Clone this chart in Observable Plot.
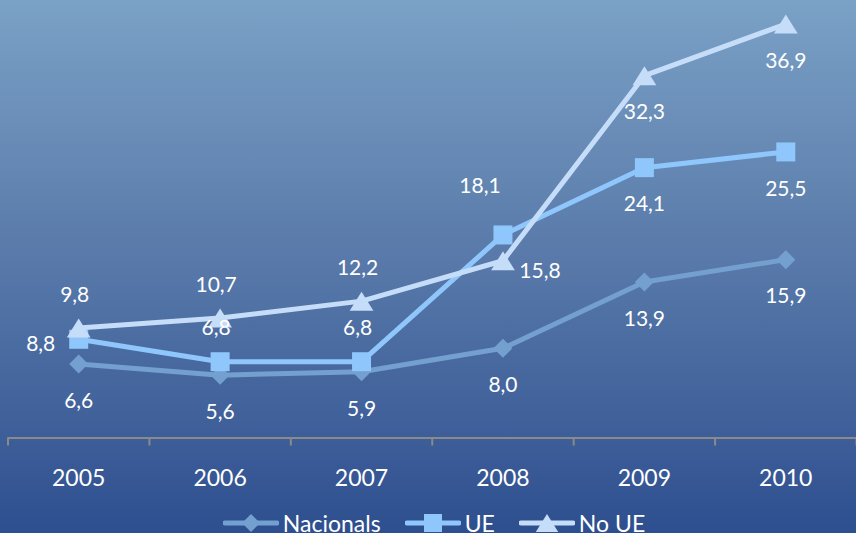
<!DOCTYPE html>
<html>
<head>
<meta charset="utf-8">
<script src="https://cdn.jsdelivr.net/npm/d3@7"></script>
<script src="https://cdn.jsdelivr.net/npm/@observablehq/plot@0.6"></script>
<style>
  html, body { margin: 0; padding: 0; }
  #wrap {
    width: 856px; height: 533px; overflow: hidden;
    background: linear-gradient(to bottom, #7aa1c6 0%, #5b7cab 45%, #2e4f8f 100%);
    font-family: Lato, "Open Sans", sans-serif;
  }
  #legend {
    height: 28px; overflow: hidden; display: flex; justify-content: center;
    align-items: center; padding-top: 8px; box-sizing: border-box; padding-left: 12px;
    color: #ffffff; font-size: 23px; line-height: 23px;
  }
  #legend .item { display: flex; align-items: center; margin-right: 24px; }
  #legend .item:last-child { margin-right: 0; }
  #legend span { margin-left: 4px; }
</style>
</head>
<body>
<div id="wrap"><div id="chart"></div><div id="legend"></div></div>
<script>
// ---- data ----
const years = [2005, 2006, 2007, 2008, 2009, 2010];
const seriesNames = ["Nacionals", "UE", "No UE"];
const nacionals = [6.6, 5.6, 5.9, 8.0, 13.9, 15.9];
const ue = [8.8, 6.8, 6.8, 18.1, 24.1, 25.5];
const noUE = [9.8, 10.7, 12.2, 15.8, 32.3, 36.9];
// label placement (as set in the original chart)
const nacionalsPlace = ["below", "below", "below", "below", "below", "below"];
const uePlace = ["left", "above", "above", "aboveLeft", "below", "below"];
const noUEPlace = ["above", "above", "above", "right", "below", "below"];

// ---- styles ----
const colors = {"Nacionals": "#74a0cf", "UE": "#8fc7fc", "No UE": "#c6ddf9"};
const sq = {draw(ctx, size) { const r = Math.sqrt(size / Math.PI); ctx.rect(-r, -r, 2 * r, 2 * r); }};
const dia = {draw(ctx, size) { const r = Math.sqrt(size / Math.PI); ctx.moveTo(0, -r); ctx.lineTo(r, 0); ctx.lineTo(0, r); ctx.lineTo(-r, 0); ctx.closePath(); }};
const tri = {draw(ctx, size) { const r = Math.sqrt(size / Math.PI); ctx.moveTo(0, -r); ctx.lineTo(1.25 * r, r); ctx.lineTo(-1.25 * r, r); ctx.closePath(); }};
const symbols = {"Nacionals": dia, "UE": sq, "No UE": tri};
const offsets = {
  below: {dx: 0, dy: 37},
  above: {dx: -4, dy: -33},
  left: {dx: -38, dy: 5},
  right: {dx: 37, dy: 11},
  aboveLeft: {dx: -23, dy: -49}
};

const valuesBySeries = {"Nacionals": nacionals, "UE": ue, "No UE": noUE};
const placeBySeries = {"Nacionals": nacionalsPlace, "UE": uePlace, "No UE": noUEPlace};
const rows = seriesNames.flatMap(s => years.map((yr, i) => ({
  series: s, year: yr, value: valuesBySeries[s][i], place: placeBySeries[s][i]
})));
const fmt = v => v.toFixed(1).replace(".", ",");
const boundaries = years.map(y => y - 0.5).concat([years[years.length - 1] + 0.5]);

const marks = [
  Plot.ruleY([0], {stroke: "#8a8a8a", strokeWidth: 2}),
  Plot.axisX({ticks: boundaries, tickFormat: () => "", tickSize: 8, stroke: "#8a8a8a", strokeWidth: 2, label: null}),
  Plot.axisX({ticks: years, tickSize: 0, tickPadding: 32, tickFormat: d => String(d), label: null,
              fill: "#ffffff", fontSize: 23, fontFamily: "Lato"})
];
for (const s of seriesNames) {
  const data = rows.filter(d => d.series === s);
  marks.push(Plot.line(data, {x: "year", y: "value", stroke: colors[s], strokeWidth: 5,
                              strokeLinejoin: "round", strokeLinecap: "round"}));
  marks.push(Plot.dot(data, {x: "year", y: "value", symbol: () => symbols[s], r: 9.5,
                             fill: colors[s], stroke: "none"}));
}
for (const [place, off] of Object.entries(offsets)) {
  const data = rows.filter(d => d.place === place);
  marks.push(Plot.text(data, {x: "year", y: "value", text: d => fmt(d.value), dx: off.dx, dy: off.dy,
                              fill: "#ffffff", fontSize: 21, fontFamily: "Lato", lineAnchor: "middle"}));
}

const chart = Plot.plot({
  width: 856, height: 505,
  marginLeft: 7.5, marginRight: 0, marginTop: 0, marginBottom: 67.5,
  style: {background: "transparent", fontFamily: "Lato", overflow: "visible"},
  x: {domain: [2004.5, 2010.5], axis: null, label: null},
  y: {domain: [0, 39], axis: null, label: null},
  symbol: {type: "identity"},
  marks
});
document.getElementById("chart").appendChild(chart);

// ---- legend ----
const legend = d3.select("#legend");
for (const s of seriesNames) {
  const item = legend.append("div").attr("class", "item");
  const sv = item.append("svg").attr("width", 56).attr("height", 22);
  sv.append("line").attr("x1", 2).attr("x2", 54).attr("y1", 11).attr("y2", 11)
    .attr("stroke", colors[s]).attr("stroke-width", 5).attr("stroke-linecap", "round");
  sv.append("path").attr("transform", "translate(28,11)")
    .attr("d", d3.symbol(symbols[s], Math.PI * 9 * 9)()).attr("fill", colors[s]);
  item.append("span").text(s);
}
</script>
</body>
</html>
